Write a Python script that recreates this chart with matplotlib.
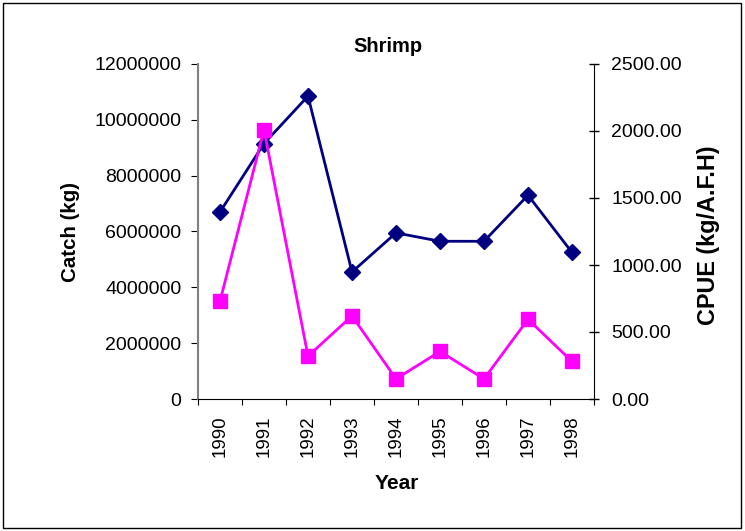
import matplotlib
matplotlib.use("Agg")
import matplotlib.pyplot as plt
from matplotlib.ticker import FixedLocator, NullFormatter
import matplotlib.patches as mpatches

years = ["1990", "1991", "1992", "1993", "1994", "1995", "1996", "1997", "1998"]
catch_kg = [6700000, 9150000, 10850000, 4550000, 5950000, 5650000, 5650000, 7300000, 5250000]
cpue = [730, 2010, 320, 620, 150, 355, 150, 595, 280]

plt.rcParams['font.family'] = ['Liberation Sans', 'DejaVu Sans']

W, H = 745, 531
fig = plt.figure(figsize=(W / 100, H / 100), dpi=100)
L, R, T, B = 198, 594, 64, 399
ax = fig.add_axes([L / W, (H - B) / H, (R - L) / W, (B - T) / H])
ax2 = ax.twinx()

x = list(range(len(years)))
ax.plot(x, catch_kg, color='#000080', marker='D', markersize=8, linewidth=2, zorder=3)
ax2.plot(x, cpue, color='#FF00FF', marker='s', markersize=10, linewidth=2, zorder=3)

ax.set_xlim(-0.5, 8.5)
ax.set_ylim(0, 12000000)
ax2.set_ylim(0, 2500)

ax.set_yticks([0, 2000000, 4000000, 6000000, 8000000, 10000000, 12000000])
ax.set_yticklabels(["0", "2000000", "4000000", "6000000", "8000000", "10000000", "12000000"], fontsize=14)
ax2.set_yticks([0, 500, 1000, 1500, 2000, 2500])
ax2.set_yticklabels(["0.00", "500.00", "1000.00", "1500.00", "2000.00", "2500.00"], fontsize=14)

ax.xaxis.set_major_locator(FixedLocator([i - 0.5 for i in range(len(years) + 1)]))
ax.xaxis.set_major_formatter(NullFormatter())
ax.xaxis.set_minor_locator(FixedLocator(x))
ax.set_xticklabels(years, minor=True, rotation=90, fontsize=13.5)
ax.tick_params(axis='x', which='minor', length=0, pad=12)
ax.tick_params(axis='x', which='major', length=4, direction='out', color='black')
ax.tick_params(axis='y', length=5, direction='out', color='black', pad=7)
ax2.tick_params(axis='y', length=7, direction='inout', color='black', width=1, pad=9)

for a in (ax, ax2):
    a.spines['top'].set_visible(False)
ax.spines['left'].set_color('#808080')
ax.spines['left'].set_linewidth(1.5)
ax2.spines['left'].set_visible(False)
ax2.spines['right'].set_color('black')
ax2.spines['bottom'].set_visible(False)
ax.spines['right'].set_visible(False)
ax.spines['bottom'].set_color('black')

fig.text(388 / W, 1 - 52 / H, "Shrimp", fontsize=14.5, fontweight='bold', ha='center', va='baseline')
fig.text(397 / W, 1 - 489 / H, "Year", fontsize=15, fontweight='bold', ha='center', va='baseline')
fig.text(71 / W, 1 - 231.5 / H, "Catch (kg)", fontsize=14.8, fontweight='bold', rotation=90,
         ha='center', va='center')
fig.text(708 / W, 1 - 235 / H, "CPUE (kg/A.F.H)", fontsize=16.8, fontweight='bold', rotation=90,
         ha='center', va='center')

fig.patches.append(mpatches.Rectangle((3 / W, 3 / H), 738 / W, 525 / H, transform=fig.transFigure,
                                      fill=False, edgecolor='black', linewidth=1))

fig.savefig("out.png", dpi=100)
